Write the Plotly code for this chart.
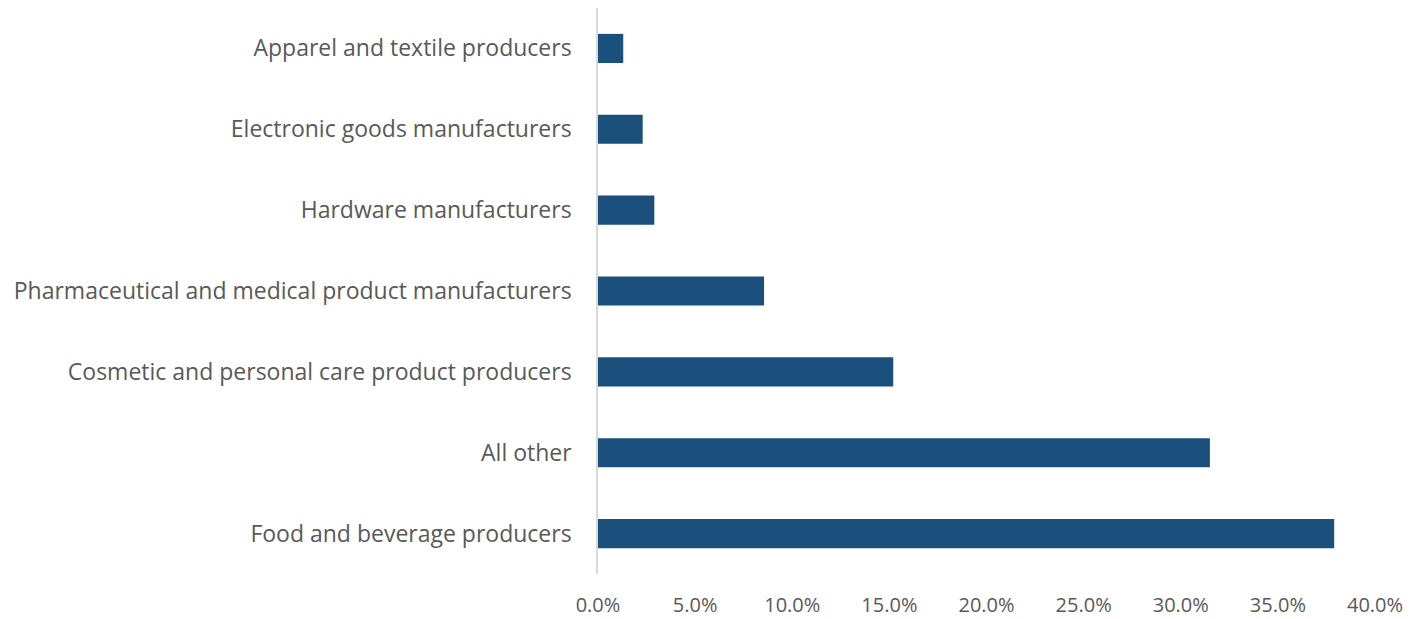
import plotly.graph_objects as go

categories = [
    "Food and beverage producers",
    "All other",
    "Cosmetic and personal care product producers",
    "Pharmaceutical and medical product manufacturers",
    "Hardware manufacturers",
    "Electronic goods manufacturers",
    "Apparel and textile producers",
]
shares = [0.379, 0.315, 0.152, 0.0855, 0.029, 0.023, 0.013]
x_ticks = [0, 0.05, 0.10, 0.15, 0.20, 0.25, 0.30, 0.35, 0.40]

fig = go.Figure(
    go.Bar(
        x=shares,
        y=categories,
        orientation="h",
        width=0.36,
        marker=dict(color="#1b4f7c", line=dict(width=0)),
    )
)

# page body has an 8px margin, so the figure is sized/offset to compensate
fig.update_layout(
    width=1413,
    height=611,
    margin=dict(l=590, r=46, t=0, b=45, pad=0),
    plot_bgcolor="white",
    paper_bgcolor="white",
    font=dict(family="Open Sans", size=20, color="#595959"),
    showlegend=False,
)
fig.update_xaxes(
    range=[0, 0.4],
    tickvals=x_ticks,
    tickformat=".1%",
    showgrid=False,
    zeroline=False,
    showline=False,
    ticks="outside",
    ticklen=13,
    tickcolor="rgba(0,0,0,0)",
    tickfont=dict(size=20, color="#595959"),
    automargin=False,
)
fig.update_yaxes(
    categoryorder="array",
    categoryarray=categories,
    range=[-0.5, 6.5],
    showgrid=False,
    zeroline=False,
    showline=True,
    linecolor="#d9d9d9",
    linewidth=1.5,
    ticks="outside",
    ticklen=20,
    tickcolor="rgba(0,0,0,0)",
    tickfont=dict(size=23, color="#595959"),
    automargin=False,
)

fig.write_html("out.html")
